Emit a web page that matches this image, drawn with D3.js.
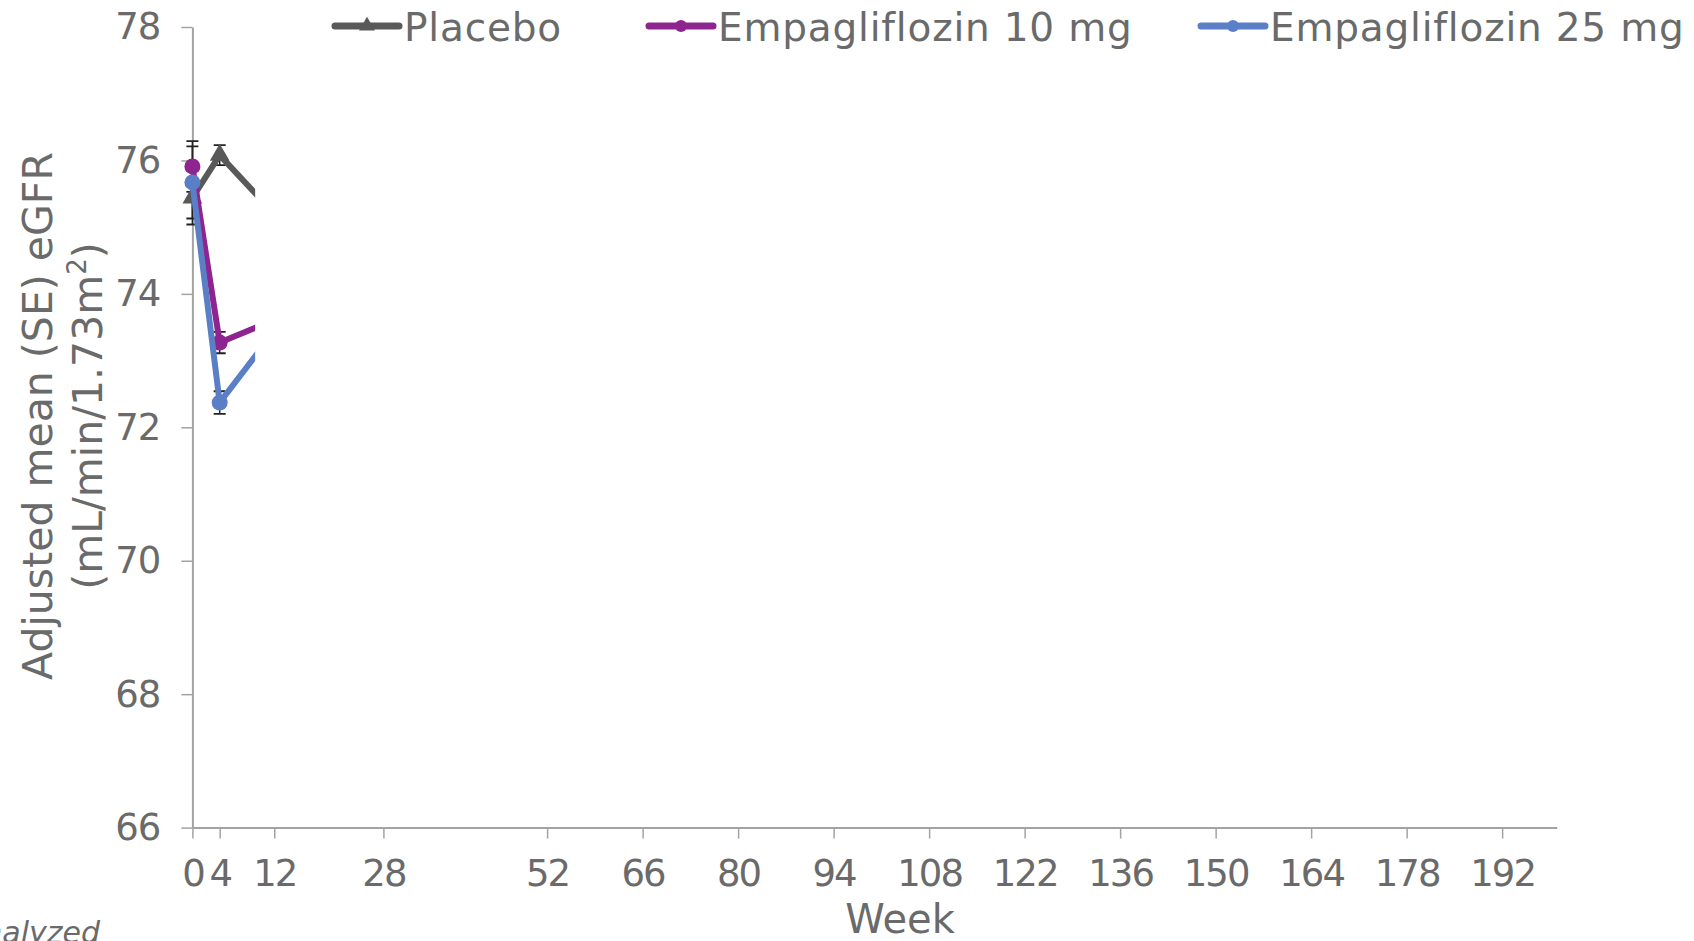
<!DOCTYPE html>
<html>
<head>
<meta charset="utf-8">
<script src="https://cdn.jsdelivr.net/npm/d3@7"></script>
<style>
  html, body { margin: 0; padding: 0; background: #fff; overflow: hidden; }
  text { font-family: "DejaVu Sans", sans-serif; fill: #6a6a6a; }
</style>
</head>
<body>
<svg id="chart" width="1694" height="941"></svg>
<script>
// ---- data ----
const weeks = [0, 4, 12];
const xTickValues = [0, 4, 12, 28, 52, 66, 80, 94, 108, 122, 136, 150, 164, 178, 192];
const yTickValues = [66, 68, 70, 72, 74, 76, 78];
const seriesNames = ["Placebo", "Empagliflozin 10 mg", "Empagliflozin 25 mg"];
const placeboMean = [75.44, 76.08, 75.2];
const placeboSE   = [0.40, 0.15, 0.15];
const empa10Mean  = [75.91, 73.27, 73.61];
const empa10SE    = [0.38, 0.16, 0.15];
const empa25Mean  = [75.67, 72.37, 73.44];
const empa25SE    = [0.54, 0.17, 0.15];
const revealWeek = 9.2;   // animation reveal point in the source frame

const colors = ["#595959", "#8e2490", "#5b7fc7"];
const markers = ["triangle", "circle", "circle"];

const series = [
  { name: seriesNames[0], mean: placeboMean, se: placeboSE, color: colors[0], marker: markers[0] },
  { name: seriesNames[1], mean: empa10Mean, se: empa10SE, color: colors[1], marker: markers[1] },
  { name: seriesNames[2], mean: empa25Mean, se: empa25SE, color: colors[2], marker: markers[2] }
];

const svg = d3.select("#chart");
const x = d3.scaleLinear().domain([0, 200]).range([192.4, 1556.7]);
const y = d3.scaleLinear().domain([66, 78]).range([827.6, 27]);

const axisColor = "#a3a3a3";

// y axis
const yAxis = svg.append("g").attr("transform", `translate(${x(0)},0)`)
  .call(d3.axisLeft(y).tickValues(yTickValues).tickSize(11).tickPadding(21).tickSizeOuter(0));
yAxis.select(".domain").attr("stroke", axisColor).attr("stroke-width", 2);
yAxis.selectAll(".tick line").attr("stroke", axisColor).attr("stroke-width", 1.5);
yAxis.selectAll(".tick text").attr("font-size", 37).attr("fill", "#6a6a6a")
  .attr("font-family", "DejaVu Sans").attr("letter-spacing", -1);

// x axis
const xAxis = svg.append("g").attr("transform", `translate(0,${y(66)})`)
  .call(d3.axisBottom(x).tickValues(xTickValues).tickSize(11).tickPadding(21).tickSizeOuter(0));
xAxis.select(".domain").attr("stroke", axisColor).attr("stroke-width", 2);
xAxis.selectAll(".tick line").attr("stroke", axisColor).attr("stroke-width", 1.5);
xAxis.selectAll(".tick text").attr("font-size", 37).attr("fill", "#6a6a6a")
  .attr("font-family", "DejaVu Sans").attr("letter-spacing", -2);

// axis titles
svg.append("text").attr("transform", "translate(52,416) rotate(-90)")
  .attr("text-anchor", "middle").attr("font-size", 41).text("Adjusted mean (SE) eGFR");
const t2 = svg.append("text").attr("transform", "translate(102,416) rotate(-90)")
  .attr("text-anchor", "middle").attr("font-size", 41);
t2.append("tspan").text("(mL/min/1.73m");
t2.append("tspan").attr("font-size", 26).attr("dy", -16).text("2");
t2.append("tspan").attr("dy", 16).text(")");

svg.append("text").attr("x", 900).attr("y", 933).attr("text-anchor", "middle")
  .attr("font-size", 40).text("Week");

svg.append("text").attr("x", 100).attr("y", 943).attr("text-anchor", "end")
  .attr("font-size", 30).attr("font-style", "italic").text("analyzed");

// clip for reveal
svg.append("defs").append("clipPath").attr("id", "reveal")
  .append("rect").attr("x", 150).attr("y", 0)
  .attr("width", x(revealWeek) - 150).attr("height", 941);

const plot = svg.append("g").attr("clip-path", "url(#reveal)");

// error bars
series.forEach(s => {
  const g = plot.append("g");
  weeks.forEach((w, i) => {
    const cx = x(w), lo = y(s.mean[i] - s.se[i]), hi = y(s.mean[i] + s.se[i]);
    g.append("line").attr("x1", cx).attr("x2", cx).attr("y1", lo).attr("y2", hi)
      .attr("stroke", "#222").attr("stroke-width", 1.5);
    [lo, hi].forEach(v => g.append("line").attr("x1", cx - 6).attr("x2", cx + 6)
      .attr("y1", v).attr("y2", v).attr("stroke", "#222").attr("stroke-width", 1.8));
  });
});

const line = d3.line().x((d, i) => x(weeks[i])).y(d => y(d));
const tri = d3.symbol().type(d3.symbolTriangle).size(170);

series.forEach(s => {
  plot.append("path").datum(s.mean).attr("d", line)
    .attr("fill", "none").attr("stroke", s.color).attr("stroke-width", 6)
    .attr("stroke-linejoin", "miter");
  s.mean.forEach((v, i) => {
    if (s.marker === "circle") {
      plot.append("circle").attr("cx", x(weeks[i])).attr("cy", y(v)).attr("r", 8)
        .attr("fill", s.color);
    } else {
      plot.append("path").attr("d", tri)
        .attr("transform", `translate(${x(weeks[i])},${y(v)})`).attr("fill", s.color);
    }
  });
});

// legend
const legendX = [335, 649, 1201];
const legend = svg.append("g");
series.forEach((s, i) => {
  const lx = legendX[i];
  legend.append("line").attr("x1", lx).attr("x2", lx + 64).attr("y1", 26).attr("y2", 26)
    .attr("stroke", s.color).attr("stroke-width", 7).attr("stroke-linecap", "round");
  if (s.marker === "circle") {
    legend.append("circle").attr("cx", lx + 32).attr("cy", 26).attr("r", 6).attr("fill", s.color);
  } else {
    legend.append("path").attr("d", d3.symbol().type(d3.symbolTriangle).size(110))
      .attr("transform", `translate(${lx + 32},26)`).attr("fill", s.color);
  }
  legend.append("text").attr("x", lx + 69).attr("y", 41).attr("font-size", 39)
    .attr("letter-spacing", 0.8).text(s.name);
});
</script>
</body>
</html>
